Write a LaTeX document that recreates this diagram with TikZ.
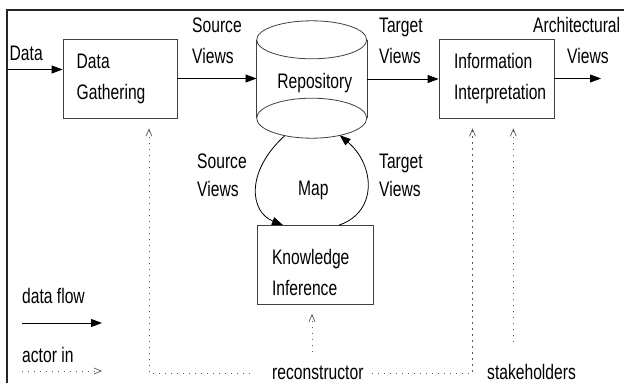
\documentclass[tikz,border=0pt]{standalone}
\usepackage{fontspec}
\setmainfont{Liberation Sans}[FakeStretch=0.745]
\usetikzlibrary{arrows.meta,calc}
\newcommand\figfont{\fontsize{21}{31}\selectfont}
\tikzset{
  lbl/.style={inner sep=0pt, font=\figfont, align=left},
  box/.style={draw=black!75, line width=0.8pt, font=\figfont, align=left, minimum height=79pt},
  cyl/.style={draw=black!75, line width=0.8pt},
  flow/.style={draw=black, line width=0.8pt, -{Triangle[length=11pt,width=8pt]}},
  actor/.style={draw=black!65, line width=1pt, dash pattern=on 1.4pt off 4.6pt,
                -{Straight Barb[length=7pt,width=6pt,line width=0.7pt]}},
}
\begin{document}
\begin{tikzpicture}[x=1pt,y=-1pt]
\useasboundingbox (0,0) rectangle (624,383);
% frame
\draw[line width=1.6pt, black!85] (624,10) -| (6.7,383);

% boxes
\node[box, minimum width=114pt, text width=86.6pt, inner xsep=13.7pt] (dg) at (120,78.5)
  {\rule{0pt}{16pt}Data\\Gathering};
\node[box, minimum width=115pt, text width=85pt, inner xsep=15pt] (ir) at (496.5,78.5)
  {\rule{0pt}{16pt}Information\\Interpretation};
\node[box, minimum width=116pt, text width=86pt, inner xsep=15pt] (ki) at (315,265)
  {\rule{0pt}{30pt}Knowledge\\Inference};

% repository cylinder
\node[minimum width=110pt, minimum height=78pt, inner sep=0pt, font=\figfont,
      text height=18pt, text depth=0pt] (repo) at (311.7,79) {\hspace*{6pt}Repository};
\draw[cyl] (repo.north west) -- (repo.south west) (repo.north east) -- (repo.south east);
\draw[cyl] (repo.north) ellipse [x radius=55pt, y radius=19pt];
\draw[cyl] (repo.south) ellipse [x radius=55pt, y radius=20pt];

% labels (base anchor = baseline of the last line)
\node[lbl, anchor=base west] (datalbl) at (9.5,60) {Data};
\node[lbl, anchor=base west] (srcv) at (192,63) {Source\\Views};
\node[lbl, anchor=base west] (tgtv) at (379,63) {Target\\Views};
\node[lbl, anchor=base west] (archv) at (533,63) {Architectural\\\hspace*{34pt}Views};
\node[lbl, anchor=base west] (srcv2) at (197,196) {Source\\[-3pt]Views};
\node[lbl, anchor=base west] (tgtv2) at (379,196) {Target\\[-3pt]Views};
\node[lbl, anchor=base west] (map) at (298,195) {Map};
\node[lbl, anchor=base west] (recon) at (272,379.5) {reconstructor};
\node[lbl, anchor=base west] (stake) at (487,379.5) {stakeholders};
\node[lbl, anchor=base west] (lflow) at (22,303) {data flow};
\node[lbl, anchor=base west] (lact) at (22,362) {actor in};

% data flows
\coordinate (datain) at (8,69.5);
\draw[flow] (datain) -- (datain -| dg.west);
\draw[flow] (dg.east) -- (dg.east -| repo.west);
\draw[flow] (repo.east) -- (repo.east -| ir.west);
\coordinate (archout) at (601,78.5);
\draw[flow] (ir.east) -- (archout);

% map loop
\coordinate (mapLs) at ($(repo.south)+(-27,17.5)$);
\coordinate (mapLe) at ($(ki.north)+(-32,0)$);
\coordinate (mapRs) at ($(ki.north)+(24,0)$);
\coordinate (mapRe) at ($(repo.south)+(28,17)$);
\draw[flow] (mapLs) .. controls (245,172) and (250,212) .. (mapLe);
\draw[flow] (mapRs) .. controls (378,212) and (375,165) .. (mapRe);

% actors
\coordinate (rl) at (250,373);
\coordinate (rr) at (372,373);
\coordinate (kiact) at (312,352);
\coordinate (stk) at (513.3,342);
\draw[actor, shorten >=10pt] (rl) -| ([xshift=29pt]dg.south);
\draw[actor, shorten >=10pt] (rr) -| ([xshift=-24pt]ir.south);
\draw[actor, shorten >=10pt] (stk) -- (stk |- ir.south);
\draw[actor, shorten >=9pt] (kiact) -- (kiact |- ki.south);

% legend
\coordinate (lf1) at (22,323);
\coordinate (lf2) at (102,323);
\draw[flow] (lf1) -- (lf2);
\coordinate (la1) at (22,371);
\coordinate (la2) at (102,371);
\draw[actor] (la1) -- (la2);
\end{tikzpicture}
\end{document}
